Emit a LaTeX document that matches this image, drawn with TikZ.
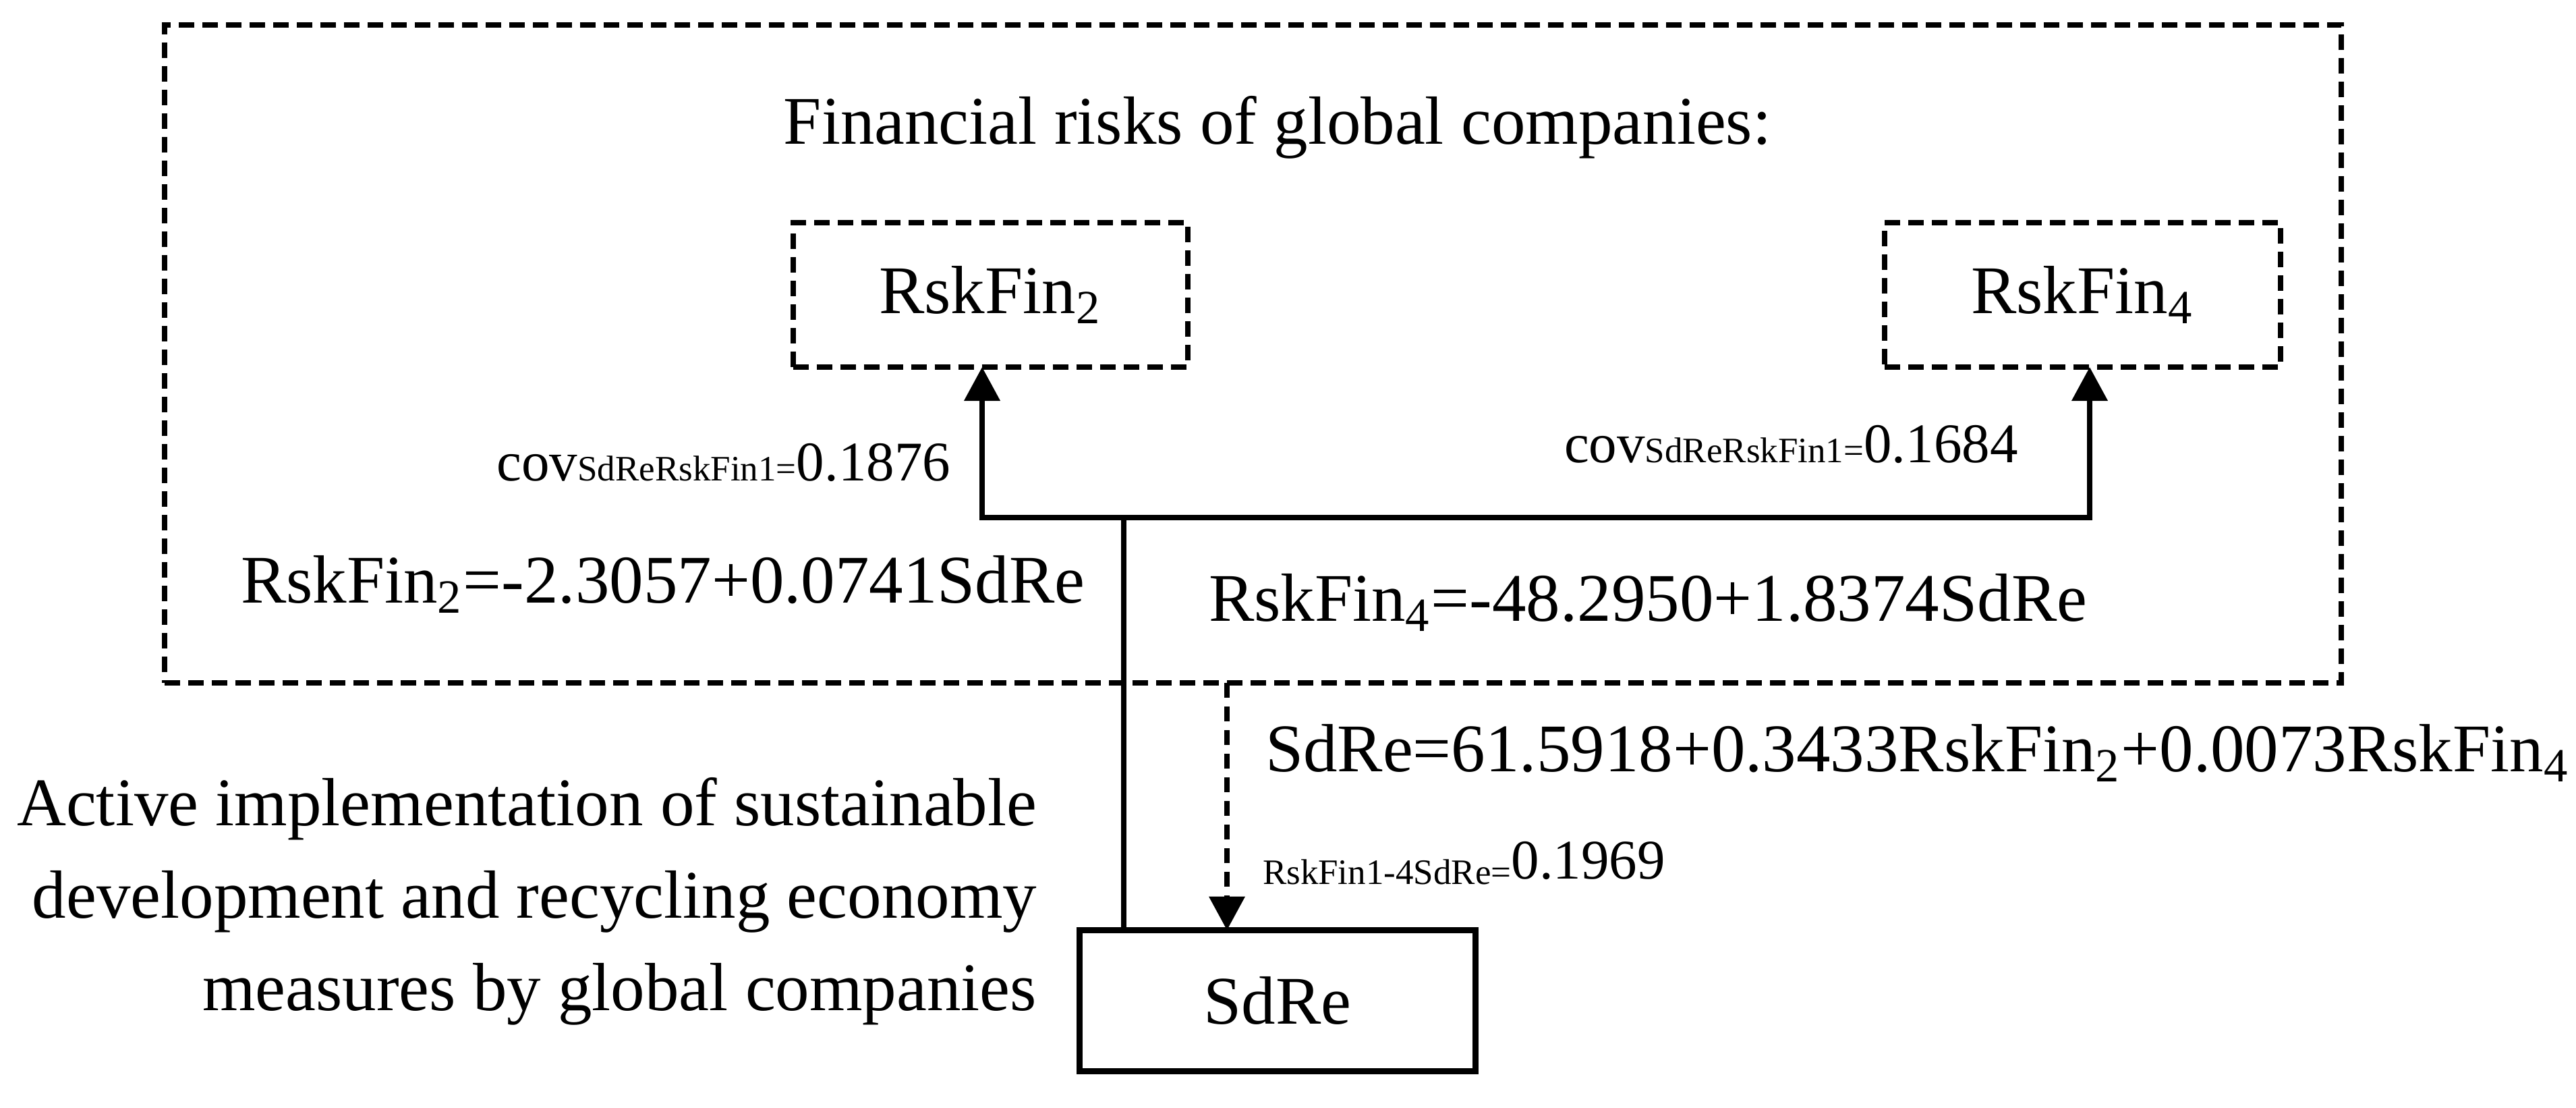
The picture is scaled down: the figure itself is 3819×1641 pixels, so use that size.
\documentclass[tikz,border=0pt]{standalone}
\usepackage{fontspec}
\setmainfont{Liberation Serif}
\usetikzlibrary{arrows.meta}
\begin{document}
\begin{tikzpicture}[x=0.2pt,y=-0.2pt,
  every node/.style={inner sep=0pt, outer sep=0pt},
  bigtxt/.style={font=\fontsize{20.2pt}{27.4pt}\selectfont},
  midtxt/.style={font=\fontsize{16.6pt}{20pt}\selectfont},
  dbox/.style={draw, line width=1.6pt, dash pattern=on 4.6pt off 2.4pt},
  sbox/.style={draw, line width=1.7pt},
  conn/.style={line width=1.5pt},
  dconn/.style={line width=1.5pt, dash pattern=on 4.4pt off 2.6pt},
  tip/.style={-{Triangle[length=10pt,width=10.4pt]}},
]
\newcommand{\smallpart}[1]{{\fontsize{10.6pt}{12pt}\selectfont #1}}
\useasboundingbox (0,0) rectangle (3819,1641);
% boxes
\node[dbox, minimum width=645.4pt, minimum height=195pt] (outer) at (1857.5,524.5) {};
\node[dbox, bigtxt, minimum width=117pt, minimum height=42.8pt] (rf2) at (1468,437) {RskFin\textsubscript{2}};
\node[dbox, bigtxt, minimum width=117.4pt, minimum height=42.8pt] (rf4) at (3087,437) {RskFin\textsubscript{4}};
\node[sbox, bigtxt, minimum width=117.4pt, minimum height=41.8pt] (sdre) at (1894,1483) {SdRe};
% texts
\node[bigtxt, anchor=base] (title) at (1894,213) {Financial risks of global companies:};
\node[bigtxt, anchor=base west] (eq2) at (357,893) {RskFin\textsubscript{2}=-2.3057+0.0741SdRe};
\node[bigtxt, anchor=base west] (eq4) at (1792,920) {RskFin\textsubscript{4}=-48.2950+1.8374SdRe};
\node[bigtxt, anchor=base west] (eq0) at (1876,1143) {SdRe=61.5918+0.3433RskFin\textsubscript{2}+0.0073RskFin\textsubscript{4}};
\node[midtxt, anchor=base east] (covL) at (1409,712) {cov\smallpart{SdReRskFin1=}0.1876};
\node[midtxt, anchor=base west] (covR) at (2319,685) {cov\smallpart{SdReRskFin1=}0.1684};
\node[midtxt, anchor=base west] (rlab) at (1872,1302) {\raisebox{-1.6pt}{\smallpart{RskFin1-4SdRe=}}0.1969};
\node[bigtxt, align=right, anchor=east] (act) at (1537,1336) {Active implementation of sustainable\\development and recycling economy\\measures by global companies};
% connectors
\coordinate (jT) at (1666,767);
\coordinate (jL) at (1456,767);
\coordinate (jR) at (3098,767);
\coordinate (dX) at (1819,1012);
\draw[conn] (jT |- sdre.north) -- (jT);
\draw[conn,tip] (jT) -- (jL) -- (jL |- rf2.south);
\draw[conn,tip] (jT) -- (jR) -- (jR |- rf4.south);
\draw[dconn,tip] (dX |- outer.south) -- (dX |- sdre.north);
\end{tikzpicture}
\end{document}
